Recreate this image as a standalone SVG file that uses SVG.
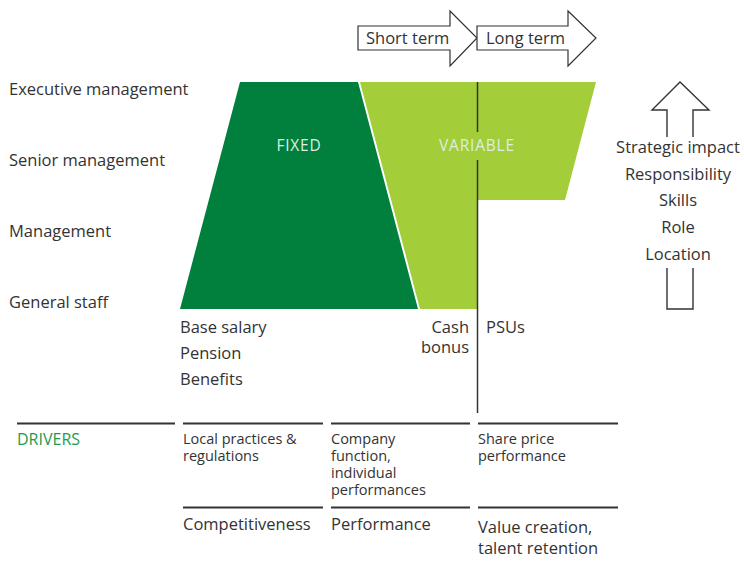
<svg xmlns="http://www.w3.org/2000/svg" width="744" height="563" viewBox="0 0 744 563">
<style>
text{font-family:"Open Sans","Noto Sans","Liberation Sans",sans-serif;fill:#333}
.lbl{font-size:16.5px}
.sm{font-size:14.5px}
.band{font-size:15.5px;fill:#dcefe0;letter-spacing:0.8px;text-anchor:middle}
.out{fill:#fff;stroke:#333;stroke-width:1.2}
.open{fill:none;stroke:#333;stroke-width:1.4}
.rule{stroke:#333;stroke-width:2}
.mid{text-anchor:middle}
</style>
<rect width="744" height="563" fill="#fff"/>
<g id="levels">
<text class="lbl" x="9" y="95">Executive management</text>
<text class="lbl" x="9" y="166">Senior management</text>
<text class="lbl" x="9" y="237">Management</text>
<text class="lbl" x="9" y="308">General staff</text>
</g>
<g id="short-term">
<polygon class="out" points="358,26 450,26 450,11 477,38 450,66 450,50 358,50"/>
<text class="lbl" x="366" y="44">Short term</text>
</g>
<g id="long-term">
<polygon class="out" points="477,26 568,26 568,11 596,38 568,66 568,50 477,50"/>
<text class="lbl" x="486" y="44">Long term</text>
</g>
<g id="variable">
<polygon fill="#a3cd39" points="360,82 596,82 565,200 478,200 478,309 420,309"/>
<text class="band" x="477" y="151">VARIABLE</text>
</g>
<g id="fixed">
<polygon fill="#007f3d" points="240,82 358,82 418,309 180,309"/>
<text class="band" x="299" y="151">FIXED</text>
</g>
<g id="connectors">
<line x1="477.5" y1="82" x2="477.5" y2="132" stroke="#333" stroke-width="1.5"/>
<line x1="477.5" y1="160" x2="477.5" y2="413" stroke="#333" stroke-width="1.5"/>
</g>
<g id="impact-arrow">
<polyline class="open" points="667,137 667,110 652,110 680,82 709,110 693,110 693,137"/>
<polyline class="open" points="667,268 667,309 693,309 693,268"/>
<text class="lbl mid" x="678" y="153">Strategic impact</text>
<text class="lbl mid" x="678" y="180">Responsibility</text>
<text class="lbl mid" x="678" y="206">Skills</text>
<text class="lbl mid" x="678" y="233">Role</text>
<text class="lbl mid" x="678" y="260">Location</text>
</g>
<g id="components">
<text class="lbl" x="180" y="333">Base salary</text>
<text class="lbl" x="180" y="359">Pension</text>
<text class="lbl" x="180" y="385">Benefits</text>
<text class="lbl" x="469" y="333" text-anchor="end">Cash</text>
<text class="lbl" x="469" y="353" text-anchor="end">bonus</text>
<text class="lbl" x="486" y="333">PSUs</text>
</g>
<g id="drivers">
<line class="rule" x1="17" y1="423.5" x2="175" y2="423.5"/>
<line class="rule" x1="183" y1="423.5" x2="323" y2="423.5"/>
<line class="rule" x1="331" y1="423.5" x2="470" y2="423.5"/>
<line class="rule" x1="478" y1="423.5" x2="618" y2="423.5"/>
<line class="rule" x1="183" y1="507.5" x2="323" y2="507.5"/>
<line class="rule" x1="331" y1="507.5" x2="470" y2="507.5"/>
<line class="rule" x1="478" y1="507.5" x2="618" y2="507.5"/>
<text x="17" y="444.5" style="fill:#1e9b4b;font-size:16px">DRIVERS</text>
<text class="sm" x="183" y="444">Local practices &amp;</text>
<text class="sm" x="183" y="461">regulations</text>
<text class="sm" x="331" y="444">Company</text>
<text class="sm" x="331" y="461">function,</text>
<text class="sm" x="331" y="478">individual</text>
<text class="sm" x="331" y="495">performances</text>
<text class="sm" x="478" y="444">Share price</text>
<text class="sm" x="478" y="461">performance</text>
<text class="lbl" x="183" y="530">Competitiveness</text>
<text class="lbl" x="331" y="530">Performance</text>
<text class="lbl" x="478" y="533">Value creation,</text>
<text class="lbl" x="478" y="554">talent retention</text>
</g>
</svg>
